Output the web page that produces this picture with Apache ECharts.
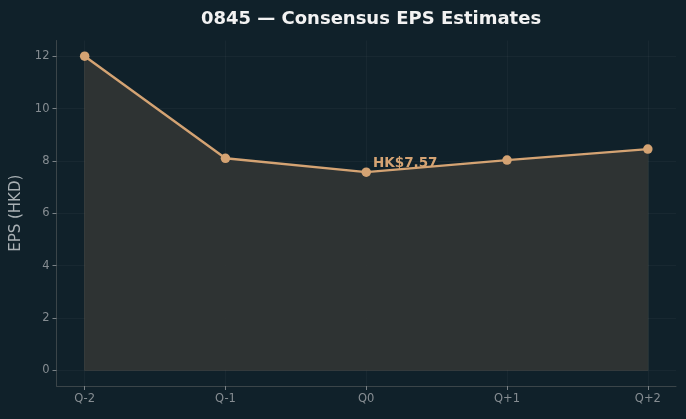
<!DOCTYPE html>
<html>
<head>
<meta charset="utf-8">
<script src="https://cdn.jsdelivr.net/npm/echarts@6/dist/echarts.min.js"></script>
<style>
  html, body { margin: 0; padding: 0; background: #10212a; }
  #chart { width: 686px; height: 419px; }
</style>
</head>
<body>
<div id="chart"></div>
<script>
// 共识 EPS 预估
const quarters = ['Q-2', 'Q-1', 'Q0', 'Q+1', 'Q+2'];
const epsValues = [12.0, 8.1, 7.57, 8.03, 8.45];
const yTicks = [0, 2, 4, 6, 8, 10, 12];
const currentIdx = 2;

const lineColor = '#d4a373';
const gridColor = 'rgba(255,255,255,0.035)';
const spineColor = '#3b4549';
const tickText = '#868d92';

const myChart = echarts.init(document.getElementById('chart'));

const xIdx = quarters.map(function (q, i) { return i; });
const last = quarters.length - 1;

const points = epsValues.map(function (v, i) {
  const p = { value: [i, v] };
  if (i === currentIdx) {
    p.label = {
      show: true,
      formatter: 'HK$' + v.toFixed(2),
      position: 'right',
      distance: 2,
      offset: [0, -9],
      color: lineColor,
      fontWeight: 'bold',
      fontSize: 13.5,
      fontFamily: 'DejaVu Sans'
    };
  }
  return p;
});

// fill_between 的边框
const outline = [[0, epsValues[0]], [0, 0], [last, 0], [last, epsValues[last]]];

const option = {
  backgroundColor: '#10212a',
  animation: false,
  title: {
    text: '0845 — Consensus EPS Estimates',
    left: 366,
    textAlign: 'center',
    top: 5,
    textStyle: {
      color: '#f2f2f2',
      fontSize: 18,
      fontWeight: 'bold',
      fontFamily: 'DejaVu Sans'
    }
  },
  grid: { left: 56.5, right: 10, top: 40.5, bottom: 33 },
  xAxis: {
    type: 'value',
    min: -0.2,
    max: 4.2,
    axisLine: { onZero: false, lineStyle: { color: spineColor } },
    axisTick: {
      customValues: xIdx,
      length: 4,
      lineStyle: { color: '#7a8286' }
    },
    axisLabel: {
      customValues: xIdx,
      formatter: function (v) { return quarters[Math.round(v)]; },
      color: tickText,
      fontSize: 11.5,
      margin: 7,
      fontFamily: 'DejaVu Sans'
    },
    splitLine: { show: true, lineStyle: { color: gridColor } }
  },
  yAxis: {
    type: 'value',
    min: -0.6,
    max: 12.6,
    name: 'EPS (HKD)',
    nameLocation: 'middle',
    nameGap: 29,
    nameTextStyle: { color: '#a9b0b4', fontSize: 15, fontFamily: 'DejaVu Sans' },
    axisLine: { show: true, onZero: false, lineStyle: { color: spineColor } },
    axisTick: {
      show: true,
      customValues: yTicks,
      length: 4,
      lineStyle: { color: '#7a8286' }
    },
    axisLabel: {
      customValues: yTicks,
      color: tickText,
      fontSize: 11.5,
      margin: 7,
      fontFamily: 'DejaVu Sans'
    },
    splitLine: { show: true, lineStyle: { color: gridColor } }
  },
  series: [
    {
      type: 'line',
      data: outline,
      symbol: 'none',
      silent: true,
      lineStyle: { color: 'rgba(110,105,90,0.45)', width: 1 },
      z: 2
    },
    {
      type: 'line',
      data: points,
      symbol: 'circle',
      symbolSize: 9.5,
      itemStyle: { color: lineColor },
      lineStyle: { color: lineColor, width: 2.4 },
      areaStyle: { color: '#303534', opacity: 0.93, origin: 'auto' },
      z: 3
    }
  ]
};

myChart.setOption(option);
window.addEventListener('resize', myChart.resize);
</script>
</body>
</html>
